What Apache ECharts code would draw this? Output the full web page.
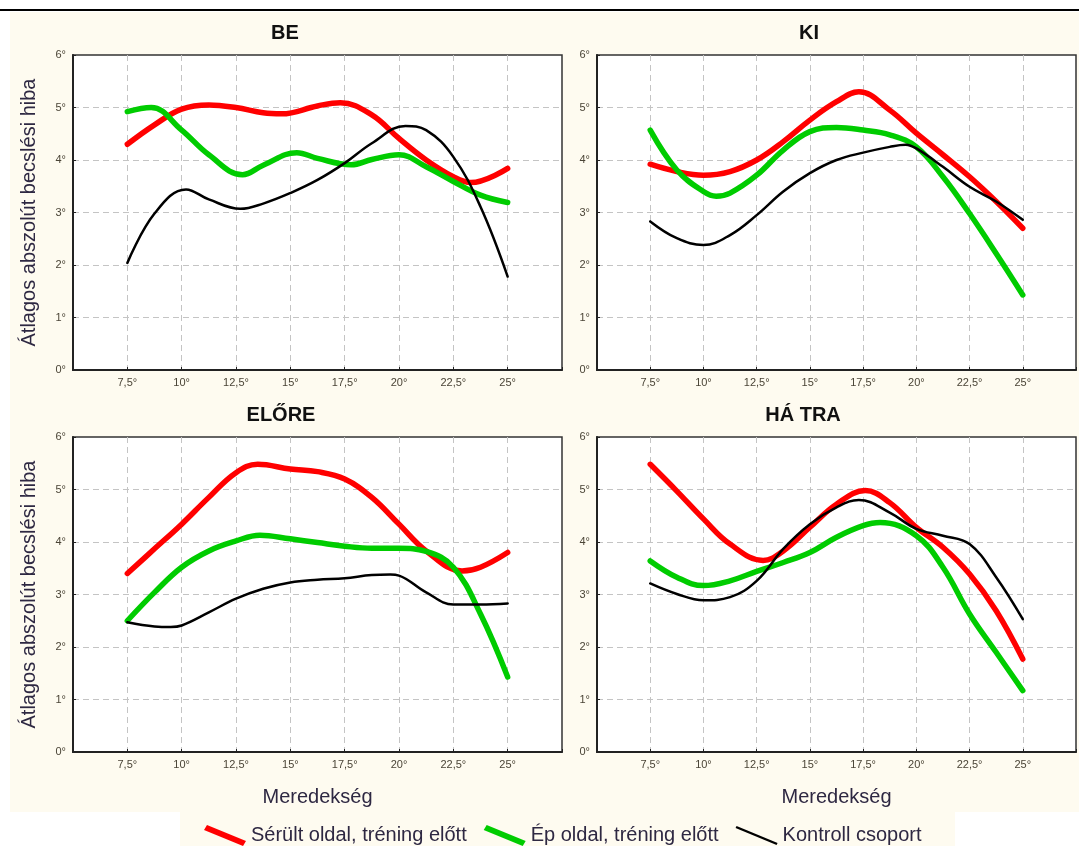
<!DOCTYPE html>
<html><head><meta charset="utf-8">
<script src="https://cdn.jsdelivr.net/npm/echarts@6/dist/echarts.min.js"></script>
<style>html,body{margin:0;padding:0;background:#fff}#c{width:1079px;height:846px}</style>
</head><body><div id="c"></div>
<script>
// ---- data: [slope (°), mean absolute error (°)] ----
const xTickValues = [7.5, 10, 12.5, 15, 17.5, 20, 22.5, 25];
const xTickLabels = ['7,5°', '10°', '12,5°', '15°', '17,5°', '20°', '22,5°', '25°'];
const yTickLabels = ['0°', '1°', '2°', '3°', '4°', '5°', '6°'];
const panelTitles = ['BE', 'KI', 'ELŐRE', 'HÁ TRA'];
const seriesNames = ['Sérült oldal, tréning előtt', 'Ép oldal, tréning előtt', 'Kontroll csoport'];
const yAxisName = 'Átlagos abszolút becslési hiba';
const xAxisName = 'Meredekség';

const beRed   = [[7.5,4.30],[8.75,4.67],[10,4.97],[11.25,5.05],[12.5,5.00],[13.75,4.90],[14.6,4.88],[16.25,5.03],[17.3,5.09],[18.75,4.86],[20,4.41],[21.25,4.00],[22.5,3.68],[23.3,3.57],[25,3.84]];
const beGreen = [[7.5,4.92],[8.6,5.00],[10,4.57],[11.25,4.10],[12.8,3.72],[13.75,3.90],[15.3,4.14],[16.25,4.03],[17.8,3.91],[18.75,4.01],[20,4.10],[21.25,3.87],[22.5,3.59],[23.75,3.33],[25,3.19]];
const beBlack = [[7.5,2.04],[8.75,2.98],[10.2,3.44],[11.25,3.25],[12.7,3.07],[13.75,3.17],[15,3.37],[16.25,3.62],[17.5,3.94],[18.75,4.32],[20.3,4.65],[21.25,4.57],[22.5,4.06],[23.75,3.11],[25,1.78]];

const kiRed   = [[7.5,3.92],[8.75,3.78],[10,3.71],[11.25,3.78],[12.5,4.00],[13.75,4.35],[15,4.76],[16.25,5.11],[17.3,5.30],[18.75,4.95],[20,4.51],[21.25,4.10],[22.5,3.68],[23.75,3.21],[25,2.70]];
const kiGreen = [[7.5,4.57],[8.75,3.81],[10,3.40],[10.6,3.31],[11.25,3.37],[12.5,3.71],[13.75,4.19],[15,4.54],[16.25,4.62],[17.5,4.57],[18.75,4.48],[20,4.25],[21.25,3.68],[22.5,2.98],[23.75,2.22],[25,1.43]];
const kiBlack = [[7.5,2.83],[8.75,2.51],[10,2.38],[11.25,2.57],[12.5,2.95],[13.75,3.40],[15,3.75],[16.25,4.00],[17.5,4.14],[18.75,4.25],[19.5,4.29],[20,4.22],[21.25,3.87],[22.5,3.49],[23.75,3.21],[25,2.86]];

const eloreRed   = [[7.5,3.40],[8.75,3.87],[10,4.34],[11.25,4.85],[12.5,5.32],[13.5,5.48],[15,5.39],[16.25,5.34],[17.5,5.20],[18.75,4.85],[20,4.34],[21.25,3.83],[22.9,3.45],[23.75,3.52],[25,3.80]];
const eloreGreen = [[7.5,2.50],[8.75,3.04],[10,3.52],[11.25,3.83],[12.5,4.02],[13.6,4.13],[15,4.06],[16.25,3.99],[17.5,3.92],[18.75,3.88],[20,3.88],[21.25,3.82],[22.5,3.52],[23.75,2.63],[25,1.43]];
const eloreBlack = [[7.5,2.47],[8.75,2.39],[9.5,2.38],[10,2.41],[11.25,2.66],[12.5,2.92],[13.75,3.11],[15,3.23],[16.25,3.28],[17.5,3.31],[18.75,3.37],[19.6,3.38],[20,3.36],[21.25,3.04],[22.5,2.81],[23.75,2.81],[25,2.83]];

const hatraRed   = [[7.5,5.48],[8.75,4.97],[10,4.44],[11.25,3.96],[12.8,3.65],[13.75,3.83],[15,4.28],[16.25,4.72],[17.6,4.98],[18.75,4.75],[20,4.28],[21.25,3.90],[22.5,3.39],[23.75,2.69],[25,1.77]];
const hatraGreen = [[7.5,3.64],[8.75,3.33],[10,3.17],[11.25,3.26],[12.5,3.44],[13.75,3.61],[15,3.80],[16.25,4.09],[17.5,4.31],[18.3,4.37],[20,4.12],[21.25,3.52],[22.5,2.63],[23.75,1.90],[25,1.17]];
const hatraBlack = [[7.5,3.21],[8.75,3.01],[10,2.89],[11.25,2.95],[12.5,3.26],[13.75,3.87],[15,4.34],[16.25,4.66],[17.3,4.80],[18.75,4.56],[20,4.25],[21.25,4.12],[22.5,3.96],[23.75,3.33],[25,2.53]];

// ---- chart ----
const FONT = "'Liberation Sans', Arial, sans-serif";
const tickColor = '#4a4436';
const nameColor = '#2e2842';
const colors = ['#ff0000', '#00cc00', '#000000'];
const widths = [5.5, 5.5, 2.5];

const panels = [
  { left: 73,  top: 55,  vals: [beRed, beGreen, beBlack],          yName: true,  xName: false },
  { left: 597, top: 55,  vals: [kiRed, kiGreen, kiBlack],          yName: false, xName: false },
  { left: 73,  top: 437, vals: [eloreRed, eloreGreen, eloreBlack], yName: true,  xName: true },
  { left: 597, top: 437, vals: [hatraRed, hatraGreen, hatraBlack], yName: false, xName: true }
];
const titleCenters = [[285, 33], [809, 33], [281, 415], [803, 415]];

const grid = [], xAxis = [], yAxis = [], series = [];
panels.forEach((p, i) => {
  grid.push({ left: p.left, top: p.top, width: 489, height: 315, show: true,
    backgroundColor: '#ffffff', borderColor: '#333333', borderWidth: 1.5 });
  xAxis.push({
    gridIndex: i, type: 'value', min: 5, max: 27.5, interval: 2.5,
    axisLine: { show: true, lineStyle: { color: '#222', width: 2 } },
    axisTick: { show: true, inside: true, length: 3, lineStyle: { color: '#222' } },
    axisLabel: {
      color: tickColor, fontFamily: FONT, fontSize: 11, margin: 7,
      formatter: v => { const k = xTickValues.indexOf(v); return k >= 0 ? xTickLabels[k] : ''; }
    },
    splitLine: { show: true, showMinLine: false, showMaxLine: false,
      lineStyle: { color: '#c4c4c4', type: [6, 4], width: 1 } },
    name: p.xName ? xAxisName : '', nameLocation: 'middle', nameGap: 35,
    nameTextStyle: { color: nameColor, fontFamily: FONT, fontSize: 20 }
  });
  yAxis.push({
    gridIndex: i, type: 'value', min: 0, max: 6, interval: 1,
    axisLine: { show: true, lineStyle: { color: '#222', width: 2 } },
    axisTick: { show: true, inside: true, length: 3, lineStyle: { color: '#222' } },
    axisLabel: { color: tickColor, fontFamily: FONT, fontSize: 11, margin: 7,
      formatter: v => yTickLabels[Math.round(v)] },
    splitLine: { show: true, showMinLine: false, showMaxLine: false,
      lineStyle: { color: '#c4c4c4', type: [6, 4], width: 1 } },
    name: p.yName ? yAxisName : '', nameLocation: 'middle', nameGap: 34, nameRotate: 90,
    nameTextStyle: { color: nameColor, fontFamily: FONT, fontSize: 20 }
  });
  p.vals.forEach((vals, s) => {
    series.push({
      type: 'line', name: seriesNames[s], xAxisIndex: i, yAxisIndex: i,
      data: vals,
      smooth: 0.4, showSymbol: false, symbol: 'none', z: 2 + s,
      lineStyle: { color: colors[s], width: widths[s], cap: 'round', join: 'round' },
      itemStyle: { color: colors[s] },
      emphasis: { disabled: true }, silent: true, animation: false
    });
  });
});

const graphic = [
  { type: 'rect', z: -100, shape: { x: 0, y: 0, width: 1079, height: 846 }, style: { fill: '#ffffff' } },
  { type: 'rect', z: -99, shape: { x: 10, y: 12, width: 1069, height: 800 }, style: { fill: '#fefbf0' } },
  { type: 'rect', z: -99, shape: { x: 180, y: 811, width: 775, height: 35 }, style: { fill: '#fefbf0' } },
  { type: 'rect', z: -98, shape: { x: 0, y: 9, width: 1079, height: 2 }, style: { fill: '#000000' } }
];
panelTitles.forEach((t, i) => {
  graphic.push({ type: 'text', z: 10, x: titleCenters[i][0], y: titleCenters[i][1],
    style: { text: t, align: 'center', verticalAlign: 'middle', fill: '#111',
      font: 'bold 20px ' + FONT } });
});

const iconThick = 'path://M3,0 L42,16 L39,21 L0,5 Z';
const iconThin = 'path://M1,1 L42,18 L41,20 L0,3 Z';

const option = {
  animation: false,
  backgroundColor: 'transparent',
  grid, xAxis, yAxis, series, graphic,
  legend: {
    left: 199, top: 820, itemWidth: 42, itemHeight: 21, itemGap: 17,
    selectedMode: false,
    textStyle: { color: nameColor, fontFamily: FONT, fontSize: 20 },
    data: [
      { name: seriesNames[0], icon: iconThick, itemStyle: { color: colors[0], borderWidth: 0 } },
      { name: seriesNames[1], icon: iconThick, itemStyle: { color: colors[1], borderWidth: 0 } },
      { name: seriesNames[2], icon: iconThin,  itemStyle: { color: colors[2], borderWidth: 0 } }
    ]
  }
};
const chart = echarts.init(document.getElementById('c'), null, { renderer: 'canvas' });
chart.setOption(option);
</script>
</body></html>
